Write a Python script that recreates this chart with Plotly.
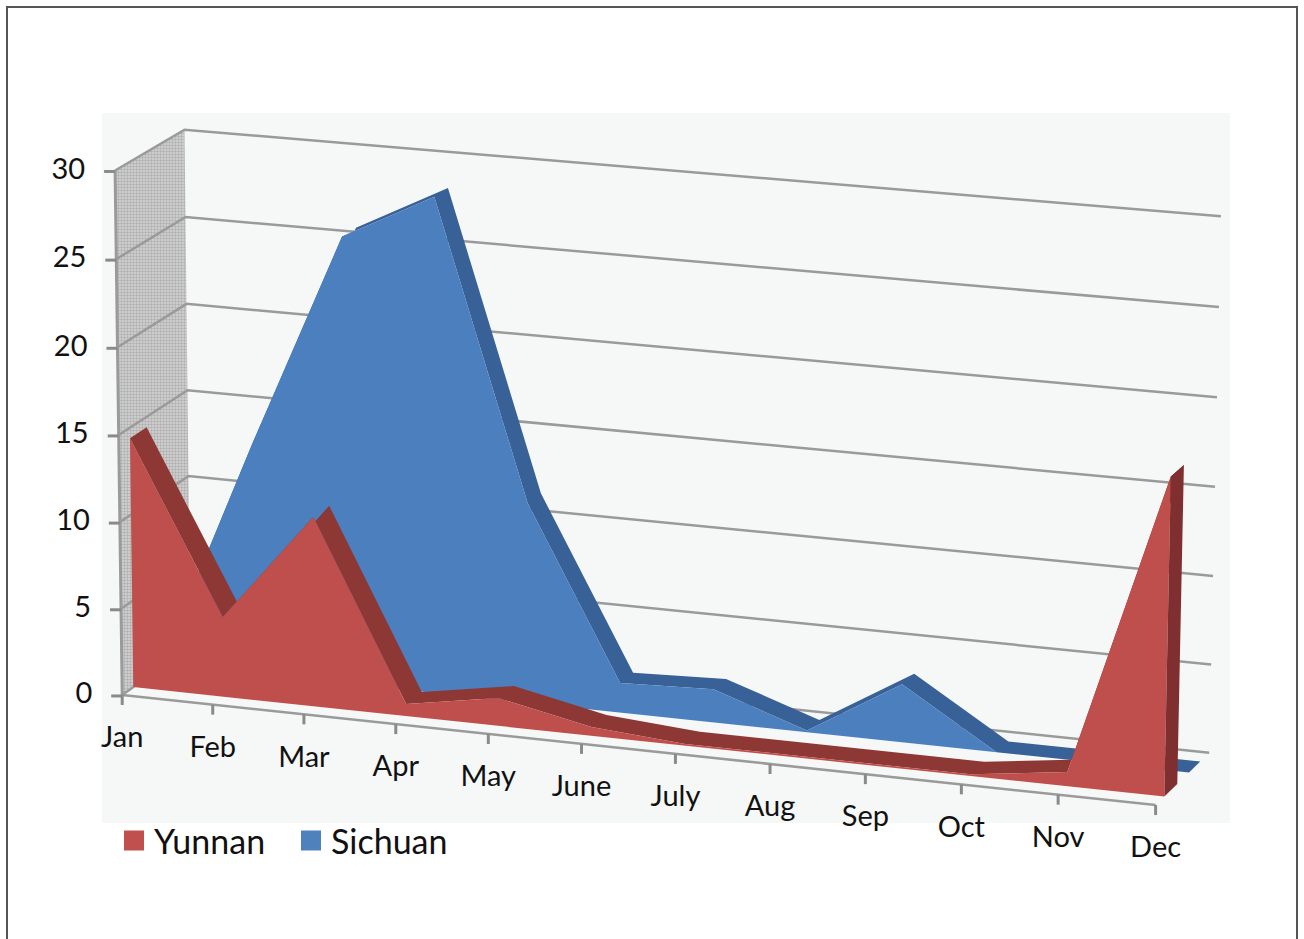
import numpy as np
import plotly.graph_objects as go

# ---- data
months = ["Jan", "Feb", "Mar", "Apr", "May", "June", "July", "Aug", "Sep", "Oct", "Nov", "Dec"]
yunnan = [14.4, 4.6, 10.9, 0.7, 1.6, 0.5, 0.1, 0.1, 0.1, 0.1, 0.8, 17.8]
sichuan = [0.5, 13.4, 25.7, 28.4, 11.5, 1.7, 1.9, 0.1, 3.3, 0.0, 0.0, 0.0]
value_ticks = [0, 5, 10, 15, 20, 25, 30]

# ---- the view of the 3-D box: (month, value, depth) -> page position, solved from box corners
N = len(months) - 1
VMAX = value_ticks[-1]
box_corners = [
    ((0, 0, 0), (125, 693)), ((N, 0, 0), (1156, 805)), ((5, 0, 0), (580, 743)),
    ((0, VMAX, 0), (112, 168)), ((0, 0, 1), (188, 650)), ((0, VMAX, 1), (188, 131)),
    ((N, VMAX, 1), (1219, 212)), ((N, 0, 1), (1210, 752)), ((N, VMAX, 0), (1168, 266)),
]
A, b = [], []
for (u, v, d), (px, py) in box_corners:
    u, v = u / N, v / VMAX
    A.append([u, v, d, 1, 0, 0, 0, 0, -px * u, -px * v, -px * d]); b.append(px)
    A.append([0, 0, 0, 0, u, v, d, 1, -py * u, -py * v, -py * d]); b.append(py)
cam = np.linalg.lstsq(np.array(A, float), np.array(b, float), rcond=None)[0]


def project(u, v, d):
    u, v, d = np.asarray(u, float) / N, np.asarray(v, float) / VMAX, np.asarray(d, float)
    w = cam[8] * u + cam[9] * v + cam[10] * d + 1
    return (cam[0] * u + cam[1] * v + cam[2] * d + cam[3]) / w, (cam[4] * u + cam[5] * v + cam[6] * d + cam[7]) / w


GRID = "#9a9a9a"
idx = np.arange(len(months))
fig = go.Figure()


def poly(x, y, color, **kw):
    fig.add_trace(go.Scatter(x=list(x), y=list(y), mode="lines", fill="toself", fillcolor=color,
                             line=dict(width=0, color=color), hoverinfo="skip", showlegend=False, **kw))


def seg(u, v, d, width=2.5, color=GRID):
    x, y = project(u, v, d)
    fig.add_trace(go.Scatter(x=np.atleast_1d(x), y=np.atleast_1d(y), mode="lines",
                             line=dict(width=width, color=color), hoverinfo="skip", showlegend=False))


# left wall
wx, wy = project([0, 0, 0, 0], [0, VMAX, VMAX, 0], [0, 0, 1, 1])
poly(wx, wy, "#c0c0c0", fillpattern=dict(shape=".", size=3, solidity=0.5, bgcolor="#d6d6d6", fgcolor="#888888"))

# grid lines on the walls and the axes
for v in value_ticks:
    seg([0, 0, N], [v, v, v], [0, 1, 1])
seg([0, 0], [0, VMAX], [0, 0], width=3)
seg([0, N], [0, 0], [0, 0])

# value ticks and labels
vx, vy = project(np.zeros(len(value_ticks)), value_ticks, np.zeros(len(value_ticks)))
for x0, y0 in zip(vx, vy):
    fig.add_trace(go.Scatter(x=[x0 - 11, x0], y=[y0 + 1, y0 + 1], mode="lines", line=dict(width=3, color="#8a8a8a"),
                             hoverinfo="skip", showlegend=False))
fig.add_trace(go.Scatter(x=vx - 30, y=vy + 1, mode="text", text=[str(v) for v in value_ticks],
                         textposition="middle left", hoverinfo="skip", showlegend=False,
                         textfont=dict(family="Lato", size=29, color="#111111")))

# month ticks and labels
mx, my = project(idx, np.zeros(len(idx)), np.zeros(len(idx)))
for x0, y0 in zip(mx, my):
    fig.add_trace(go.Scatter(x=[x0, x0], y=[y0, y0 + 10], mode="lines", line=dict(width=3, color="#8a8a8a"),
                             hoverinfo="skip", showlegend=False))
fig.add_trace(go.Scatter(x=mx, y=my + 45, mode="text", text=months, textposition="middle center",
                         hoverinfo="skip", showlegend=False,
                         textfont=dict(family="Lato", size=29, color="#111111")))

RED, RED_TOP = "#be4f4c", "#8e3835"
BLUE, BLUE_TOP = "#4b7fbe", "#386197"


def area(values, d0, d1, face, top):
    vals = np.array(values, float)
    fx, fy = project(idx, vals, np.full(len(idx), d0))
    bx, by = project(idx, vals, np.full(len(idx), d1))
    poly(np.r_[fx, bx[::-1]], np.r_[fy, by[::-1]], top)
    gx, gy = project(idx, np.zeros(len(idx)), np.full(len(idx), d0))
    poly(np.r_[fx, gx[::-1]], np.r_[fy, gy[::-1]], face)
    cx, cy = project([N, N, N, N], [0, vals[-1], vals[-1], 0], [d0, d0, d1, d1])
    poly(cx, cy, "#7f2f2f" if face == RED else top)


area(sichuan, 0.62, 0.83, BLUE, BLUE_TOP)
area(yunnan, 0.16, 0.40, RED, RED_TOP)

# legend keys
for name, col in [("Yunnan", "#c0504d"), ("Sichuan", "#4f81bd")]:
    fig.add_trace(go.Scatter(x=[None], y=[None], mode="markers", name=name,
                             marker=dict(symbol="square", size=16, color=col, line=dict(width=4, color=col))))

fig.update_layout(
    width=1304, height=939, autosize=False, margin=dict(l=0, r=0, t=0, b=0),
    paper_bgcolor="white", plot_bgcolor="white",
    xaxis=dict(range=[0, 1304], visible=False, fixedrange=True),
    yaxis=dict(range=[939, 0], visible=False, fixedrange=True),
    font=dict(family="Lato", color="#111111"),
    legend=dict(orientation="h", x=114 / 1304, y=1 - 812 / 939, xanchor="left", yanchor="top",
                bgcolor="rgba(0,0,0,0)", font=dict(family="Lato", size=34), traceorder="normal",
                entrywidth=132, entrywidthmode="pixels", itemsizing="trace"),
    shapes=[
        dict(type="rect", xref="x", yref="y", x0=102, x1=1230, y0=113, y1=823, layer="below",
             fillcolor="#f6f8f8", line=dict(width=0)),
        dict(type="rect", xref="x", yref="y", x0=7, x1=1297, y0=7, y1=990, layer="below",
             fillcolor="rgba(0,0,0,0)", line=dict(width=2, color="#555555")),
    ],
)
fig.write_html("out.html", config=dict(displayModeBar=False),
               post_script="document.body.style.margin='0';document.body.style.overflow='hidden';")
